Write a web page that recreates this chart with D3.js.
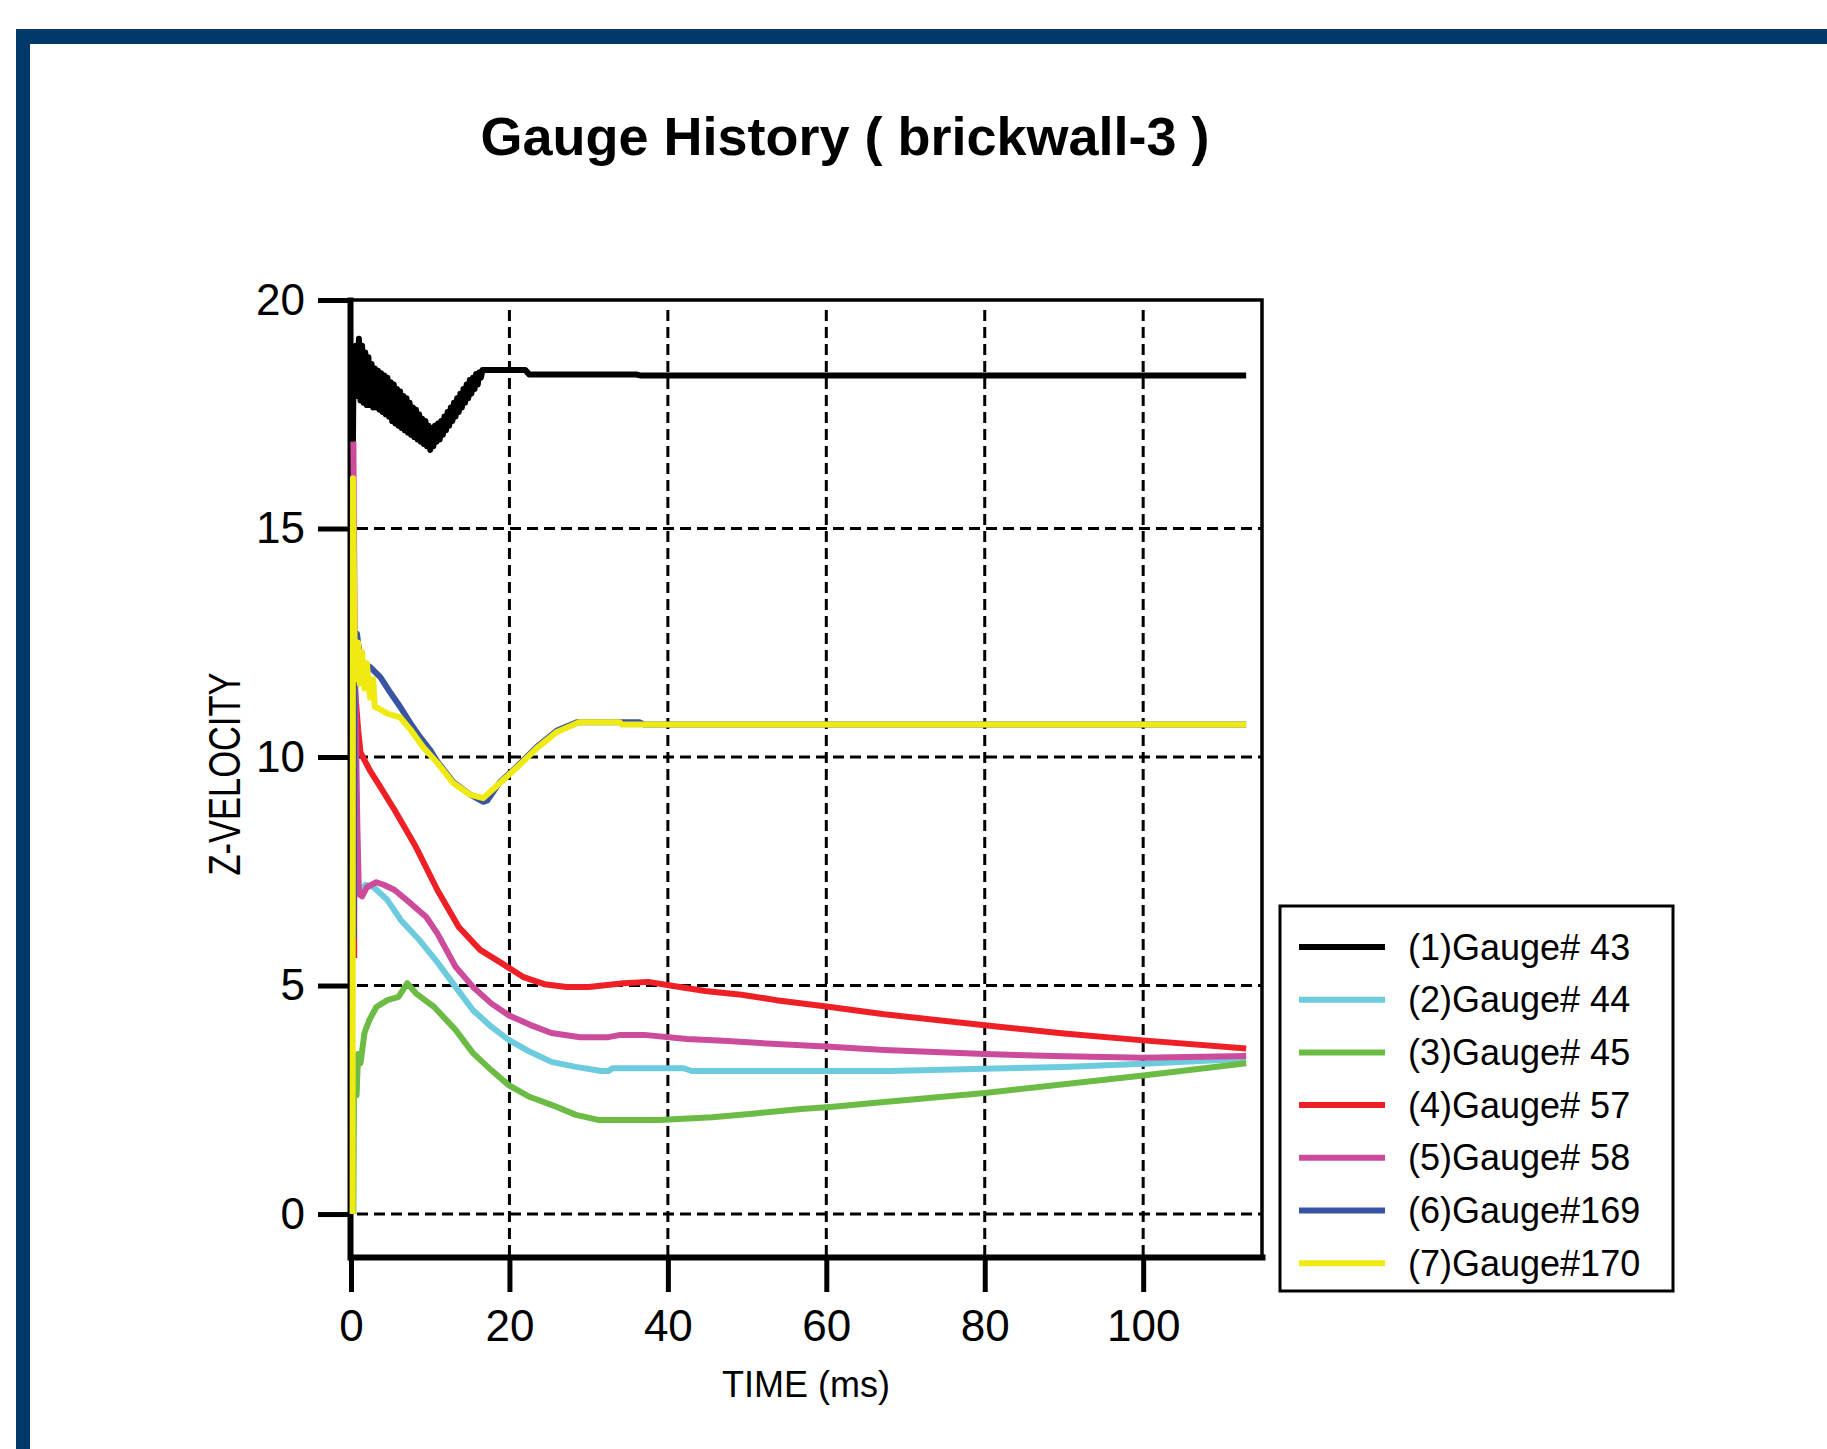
<!DOCTYPE html>
<html lang="en">
<head>
<meta charset="UTF-8">
<title>Gauge History ( brickwall-3 )</title>
<script src="https://cdnjs.cloudflare.com/ajax/libs/d3/7.8.5/d3.min.js"></script>
<style>
    html, body { margin: 0; padding: 0; background: #fff; }
    svg { display: block; font-family: "Liberation Sans", Arial, sans-serif; }
</style>
</head>
<body>
<svg id="chart" width="1827" height="1449"></svg>
<script>
    // axis ticks
    const xTicks = [0, 20, 40, 60, 80, 100];
    const yTicks = [0, 5, 10, 15, 20];

    const gaugeNames = ["(1)Gauge# 43", "(2)Gauge# 44", "(3)Gauge# 45", "(4)Gauge# 57",
                        "(5)Gauge# 58", "(6)Gauge#169", "(7)Gauge#170"];
    const gaugeColors = ["#000000", "#6ccbdc", "#6bbb45", "#ee2026", "#cc4b9b", "#3a54a4", "#eeea12"];

    // [time (ms), z-velocity]
    // gauge 43 rings hard at first, so its early points swing between the two edges of the band
    const gauge43 = [[0.25, 16.9], [0.3, 18.2], [0.45, 18.0], [0.6, 19.0], [0.8, 17.9], [1.0, 19.15],
        [1.2, 17.8], [1.4, 19.0], [1.6, 17.75], [1.8, 18.85], [2.0, 17.7], [2.2, 18.75], [2.4, 17.7],
        [2.6, 18.6], [2.8, 17.65], [3.0, 18.5], [3.2, 17.65], [3.4, 18.45], [3.6, 17.6], [3.8, 18.4],
        [4.0, 17.55], [4.2, 18.35], [4.4, 17.5], [4.6, 18.3], [4.8, 17.45], [5.0, 18.2], [5.2, 17.35],
        [5.4, 18.15], [5.6, 17.3], [5.8, 18.05], [6.0, 17.25], [6.2, 18.0], [6.4, 17.2], [6.6, 17.9],
        [6.8, 17.15], [7.0, 17.85], [7.2, 17.1], [7.4, 17.75], [7.6, 17.05], [7.8, 17.65], [8.0, 17.0],
        [8.2, 17.6], [8.4, 16.95], [8.6, 17.5], [8.8, 16.9], [9.0, 17.4], [9.2, 16.85], [9.4, 17.35],
        [9.6, 16.8], [9.8, 17.25], [10.0, 16.72], [10.2, 17.2], [10.4, 16.8], [10.6, 17.25], [10.8, 16.9],
        [11.0, 17.3], [11.2, 16.95], [11.4, 17.35], [11.6, 17.05], [11.8, 17.45], [12.0, 17.15],
        [12.2, 17.55], [12.4, 17.25], [12.6, 17.65], [12.8, 17.35], [13.0, 17.75], [13.2, 17.45],
        [13.4, 17.85], [13.6, 17.55], [13.8, 17.95], [14.0, 17.65], [14.2, 18.05], [14.4, 17.75],
        [14.6, 18.15], [14.8, 17.85], [15.0, 18.25], [15.2, 17.95], [15.4, 18.3], [15.6, 18.05],
        [15.8, 18.38], [16.0, 18.15], [16.2, 18.42], [16.4, 18.3], [16.6, 18.47], [22.0, 18.47],
        [22.5, 18.37], [36.0, 18.37], [36.5, 18.35], [113.0, 18.35]];
    const gauge44 = [[0.35, 7.8], [0.6, 7.3], [1.0, 7.05], [1.8, 7.2], [2.8, 7.16], [4.6, 6.87],
        [6.3, 6.43], [8.6, 6.0], [10.9, 5.51], [13.2, 4.97], [15.4, 4.46], [17.7, 4.1], [19.9, 3.81],
        [22.6, 3.55], [25.3, 3.33], [28.4, 3.22], [31.6, 3.13], [32.5, 3.13], [33.0, 3.19], [42.0, 3.19],
        [43.0, 3.13], [68.0, 3.13], [80.0, 3.18], [90.0, 3.22], [100.0, 3.29], [113.0, 3.4]];
    const gauge45 = [[0.3, 0.0], [0.4, 3.4], [0.7, 2.6], [0.9, 3.5], [1.2, 3.3], [1.7, 3.96], [2.3, 4.24],
        [3.2, 4.53], [4.6, 4.68], [6.0, 4.75], [7.1, 5.05], [8.2, 4.83], [10.5, 4.53], [13.2, 4.03],
        [15.4, 3.52], [17.7, 3.15], [19.9, 2.82], [22.6, 2.56], [25.3, 2.39], [28.4, 2.17], [31.2, 2.06],
        [38.9, 2.06], [45.6, 2.12], [51.0, 2.2], [56.8, 2.3], [60.9, 2.35], [65.9, 2.43], [80.0, 2.65],
        [100.0, 3.03], [113.0, 3.3]];
    const gauge57 = [[0.4, 5.6], [0.45, 11.6], [0.9, 10.6], [1.2, 10.1], [2.4, 9.7], [3.5, 9.4],
        [5.5, 8.84], [8.2, 8.03], [10.9, 7.09], [13.6, 6.28], [16.3, 5.78], [19.0, 5.49], [21.7, 5.19],
        [24.4, 5.03], [27.2, 4.97], [30.0, 4.97], [34.4, 5.05], [37.5, 5.08], [40.7, 4.99], [44.7, 4.88],
        [49.3, 4.8], [53.7, 4.68], [60.5, 4.53], [67.3, 4.37], [80.0, 4.13], [90.0, 3.95], [100.0, 3.8],
        [113.0, 3.62]];
    const gauge58 = [[0.3, 16.9], [0.5, 12.0], [0.8, 8.5], [1.0, 7.0], [1.4, 6.95], [2.0, 7.15],
        [3.2, 7.26], [4.2, 7.2], [5.5, 7.09], [7.3, 6.83], [9.5, 6.5], [10.9, 6.14], [13.2, 5.41],
        [15.4, 4.97], [17.7, 4.61], [19.9, 4.35], [22.6, 4.14], [25.3, 3.96], [28.9, 3.87], [32.5, 3.87],
        [34.0, 3.92], [37.0, 3.92], [42.4, 3.83], [47.0, 3.79], [53.7, 3.72], [60.5, 3.66], [67.3, 3.59],
        [80.0, 3.5], [90.0, 3.45], [100.0, 3.42], [113.0, 3.46]];
    const gauge169 = [[0.35, 6.0], [0.45, 12.7], [0.75, 12.7], [1.2, 12.1], [2.4, 11.97], [3.7, 11.75],
        [5.0, 11.4], [6.2, 11.1], [7.5, 10.74], [8.7, 10.44], [10.0, 10.15], [10.9, 9.9], [12.9, 9.45],
        [15.1, 9.17], [16.7, 9.02], [17.2, 9.05], [18.8, 9.45], [21.0, 9.8], [23.5, 10.23], [26.0, 10.58],
        [28.5, 10.76], [36.4, 10.76], [37.0, 10.71], [113.0, 10.71]];
    const gauge170 = [[0.2, 0.0], [0.25, 16.1], [0.45, 12.6], [0.7, 11.7], [0.9, 12.5], [1.1, 11.6],
        [1.4, 12.3], [1.7, 11.5], [2.0, 12.05], [2.4, 11.3], [2.8, 11.7], [3.0, 11.1], [3.6, 11.05],
        [4.6, 10.95], [6.2, 10.87], [7.5, 10.6], [9.1, 10.22], [10.9, 9.87], [12.9, 9.43], [15.1, 9.17],
        [16.7, 9.1], [18.8, 9.43], [21.0, 9.78], [23.5, 10.2], [26.0, 10.55], [28.8, 10.76], [33.9, 10.76],
        [34.2, 10.71], [113.0, 10.71]];

    const series = [gauge43, gauge44, gauge45, gauge57, gauge58, gauge169, gauge170];

    const svg = d3.select("#chart");

    // dark blue page frame
    svg.append("rect").attr("x", 16).attr("y", 29).attr("width", 1811).attr("height", 15).attr("fill", "#02386a");
    svg.append("rect").attr("x", 16).attr("y", 29).attr("width", 14).attr("height", 1420).attr("fill", "#02386a");

    const x = d3.scaleLinear().domain([0, 115]).range([351, 1262]);
    const y = d3.scaleLinear().domain([-0.94, 20]).range([1257, 300]);

    // title
    svg.append("text")
        .attr("x", 845).attr("y", 155)
        .attr("text-anchor", "middle")
        .attr("font-size", 54).attr("font-weight", "bold")
        .text("Gauge History ( brickwall-3 )");

    // dashed grid
    const grid = svg.append("g").attr("stroke", "#000").attr("stroke-width", 3).attr("stroke-dasharray", "11,6");
    grid.selectAll(".vgrid")
        .data(xTicks.filter(d => d > 0))
        .enter().append("line")
        .attr("x1", d => x(d)).attr("x2", d => x(d))
        .attr("y1", y.range()[1] + 10).attr("y2", y.range()[0]);
    grid.selectAll(".hgrid")
        .data(yTicks.filter(d => d < 20))
        .enter().append("line")
        .attr("x1", x.range()[0] + 6).attr("x2", x.range()[1])
        .attr("y1", d => y(d)).attr("y2", d => y(d));

    // top and right frame of the plot
    svg.append("path")
        .attr("d", `M${x.range()[0]},${y.range()[1]}H${x.range()[1]}V${y.range()[0]}`)
        .attr("fill", "none").attr("stroke", "#000").attr("stroke-width", 3.5);

    // axes
    const xAxis = svg.append("g")
        .attr("transform", `translate(0,${y.range()[0]})`)
        .call(d3.axisBottom(x).tickValues(xTicks).tickSize(35).tickPadding(18).tickSizeOuter(0));
    const yAxis = svg.append("g")
        .attr("transform", `translate(${x.range()[0] - 1},0)`)
        .call(d3.axisLeft(y).tickValues(yTicks).tickSize(32).tickPadding(13).tickSizeOuter(0));

    [xAxis, yAxis].forEach(g => {
        g.attr("font-family", null).attr("font-size", null);
        g.select(".domain").attr("stroke-width", 6).attr("stroke-linecap", "square");
        g.selectAll(".tick line").attr("stroke-width", 5);
        g.selectAll(".tick text").attr("font-size", 44).attr("fill", "#000");
    });

    // axis titles
    svg.append("text")
        .attr("x", 806).attr("y", 1397)
        .attr("text-anchor", "middle")
        .attr("font-size", 36)
        .text("TIME (ms)");
    svg.append("text")
        .attr("transform", "translate(240,774) rotate(-90)")
        .attr("text-anchor", "middle")
        .attr("font-size", 44)
        .attr("textLength", 203).attr("lengthAdjust", "spacingAndGlyphs")
        .text("Z-VELOCITY");

    // gauge lines
    const line = d3.line().x(d => x(d[0])).y(d => y(d[1]));
    svg.append("g")
        .selectAll("path")
        .data(series)
        .enter().append("path")
        .attr("d", line)
        .attr("fill", "none")
        .attr("stroke", (d, i) => gaugeColors[i])
        .attr("stroke-width", 6)
        .attr("stroke-linejoin", "round");

    // legend
    const legend = svg.append("g");
    legend.append("rect")
        .attr("x", 1280).attr("y", 906).attr("width", 393).attr("height", 385)
        .attr("fill", "#fff").attr("stroke", "#000").attr("stroke-width", 3);
    const items = legend.selectAll(".item")
        .data(gaugeNames)
        .enter().append("g")
        .attr("transform", (d, i) => `translate(0,${947 + i * 52.7})`);
    items.append("line")
        .attr("x1", 1299).attr("x2", 1385)
        .attr("stroke", (d, i) => gaugeColors[i])
        .attr("stroke-width", 6);
    items.append("text")
        .attr("x", 1408).attr("y", 12.5)
        .attr("font-size", 36)
        .text(d => d);
</script>
</body>
</html>
